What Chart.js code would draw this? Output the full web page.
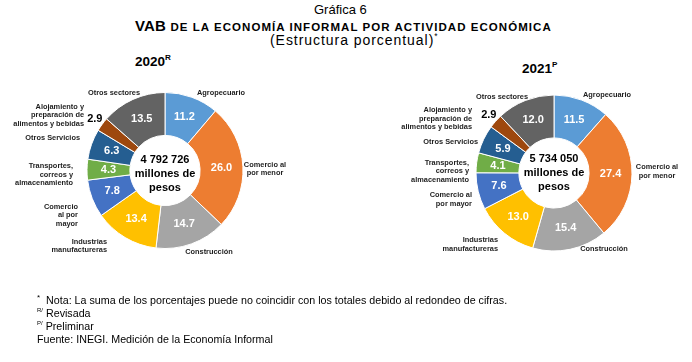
<!DOCTYPE html>
<html><head><meta charset="utf-8">
<script src="https://cdn.jsdelivr.net/npm/chart.js@4.4.0/dist/chart.umd.min.js"></script>
<style>
html,body{margin:0;padding:0;width:692px;height:362px;overflow:hidden;background:#fff;}
.t{position:absolute;white-space:nowrap;color:#000;font-family:"Liberation Sans",Arial,sans-serif;line-height:1;}
canvas{position:absolute;}
sup{font-size:60%;vertical-align:top;position:relative;top:-1px;}
</style></head><body>
<div class="t" style="left:314px;top:3px;font-size:13px;">Gráfica 6</div>
<div class="t" style="left:135px;top:18px;font-size:11.5px;font-weight:bold;letter-spacing:1.05px;"><span style="font-size:15px;letter-spacing:0.2px;">VAB</span> DE LA ECONOMÍA INFORMAL POR ACTIVIDAD ECONÓMICA</div>
<div class="t" style="left:270px;top:33px;font-size:14px;letter-spacing:0.95px;">(Estructura porcentual)<sup>*</sup></div>
<div class="t" style="left:135px;top:55px;font-size:13.5px;font-weight:bold;">2020<sup>R</sup></div>
<div class="t" style="left:522px;top:62px;font-size:13.5px;font-weight:bold;">2021<sup>P</sup></div>

<canvas id="c1" width="330" height="261" style="left:0;top:40px;"></canvas>
<canvas id="c2" width="308" height="260" style="left:400px;top:43px;"></canvas>

<div class="t" style="left:37px;top:295px;font-size:10.7px;"><sup style="font-size:8px">*</sup>&nbsp; Nota: La suma de los porcentajes puede no coincidir con los totales debido al redondeo de cifras.</div>
<div class="t" style="left:37px;top:308px;font-size:10.7px;"><sup style="font-size:6px">R/</sup> Revisada</div>
<div class="t" style="left:37px;top:321px;font-size:10.7px;"><sup style="font-size:6px">P/</sup> Preliminar</div>
<div class="t" style="left:37px;top:334px;font-size:10.7px;">Fuente: INEGI. Medición de la Economía Informal</div>

<script>
const categories = ["Agropecuario","Comercio al por menor","Construcción","Industrias manufactureras","Comercio al por mayor","Transportes, correos y almacenamiento","Otros Servicios","Alojamiento y preparación de alimentos y bebidas","Otros sectores"];
const values2020 = [11.2, 26.0, 14.7, 13.4, 7.8, 4.3, 6.3, 2.9, 13.5];
const values2021 = [11.5, 27.4, 15.4, 13.0, 7.6, 4.1, 5.9, 2.9, 12.0];
const totalText2020 = ["4 792 726", "millones de", "pesos"];
const totalText2021 = ["5 734 050", "millones de", "pesos"];
const labelLines2020 = [["Agropecuario"],["Comercio al","por menor"],["Construcción"],["Industrias","manufactureras"],["Comercio","al por","mayor"],["Transportes,","correos y","almacenamiento"],["Otros Servicios"],["Alojamiento y","preparación de","alimentos y bebidas"],["Otros sectores"]];
const labelLines2021 = [["Agropecuario"],["Comercio al","por menor"],["Construcción"],["Industrias","manufactureras"],["Comercio al","por mayor"],["Transportes,","correos y","almacenamiento"],["Otros Servicios"],["Alojamiento y","preparación de","alimentos y bebidas"],["Otros sectores"]];
const colors = ["#5B9BD5","#ED7D31","#A5A5A5","#FFC000","#4472C4","#70AD47","#255E91","#9E480E","#636363"];

// label anchor layout relative to doughnut centre: [dx, dy of first line, align]
const layout2020 = [[32,-78,'left'],[100,-6,'center'],[44,81,'center'],[-58,71,'right'],[-87,36,'right'],[-92,-4.5,'right'],[-85,-32.5,'right'],[-81,-64,'right'],[-51,-77.5,'center']];
const layout2021 = [[29,-78,'left'],[103,-6,'center'],[50,76,'center'],[-56,67,'right'],[-82,22,'right'],[-85,-10.5,'right'],[-76,-31,'right'],[-82,-63,'right'],[-52,-76,'center']];

const textPlugin = {
  id: 'pieText',
  afterDatasetsDraw(chart, args, opts) {
    const ctx = chart.ctx;
    const arcs = chart.getDatasetMeta(0).data;
    const cx = arcs[0].x, cy = arcs[0].y;
    const data = chart.data.datasets[0].data;
    ctx.save();
    ctx.textBaseline = 'middle';
    ctx.font = 'bold 11px "Liberation Sans", Arial, sans-serif';
    ctx.textAlign = 'center';
    arcs.forEach((a, i) => {
      const txt = data[i].toFixed(1);
      if (opts.outside.includes(i)) {
        const mid = (a.startAngle + a.endAngle) / 2;
        const r = a.outerRadius + 9;
        ctx.fillStyle = '#000';
        ctx.fillText(txt, cx + Math.cos(mid) * r, cy + Math.sin(mid) * r);
      } else {
        const p = a.tooltipPosition();
        ctx.fillStyle = '#fff';
        ctx.fillText(txt, p.x, p.y);
      }
    });
    ctx.fillStyle = '#000';
    ctx.font = 'bold 11px "Liberation Sans", Arial, sans-serif';
    opts.centre.forEach((s, k) => ctx.fillText(s, cx, cy + opts.centreDy + (k - 1) * 14));
    ctx.fillStyle = '#1e1e1e';
    ctx.font = 'bold 7.4px "Liberation Sans", Arial, sans-serif';
    opts.lines.forEach((lines, i) => {
      const [dx, dy, al] = opts.layout[i];
      ctx.textAlign = al;
      lines.forEach((s, k) => ctx.fillText(s, cx + dx, cy + dy + k * 8.6));
    });
    ctx.restore();
  }
};

function makeChart(id, values, centre, centreDy, lines, layout) {
  return new Chart(document.getElementById(id), {
    type: 'doughnut',
    data: { labels: categories, datasets: [{ data: values, backgroundColor: colors, borderColor: '#fff', borderWidth: 1, hoverOffset: 0 }] },
    options: {
      responsive: false, animation: false, events: [], devicePixelRatio: 1,
      radius: 78, cutout: '45%',
      layout: { padding: 0 },
      plugins: { legend: { display: false }, tooltip: { enabled: false },
        pieText: { outside: [7], centre: centre, centreDy: centreDy, lines: lines, layout: layout } }
    },
    plugins: [textPlugin]
  });
}
makeChart('c1', values2020, totalText2020, 3, labelLines2020, layout2020);
makeChart('c2', values2021, totalText2021, 0, labelLines2021, layout2021);
</script>
</body></html>
